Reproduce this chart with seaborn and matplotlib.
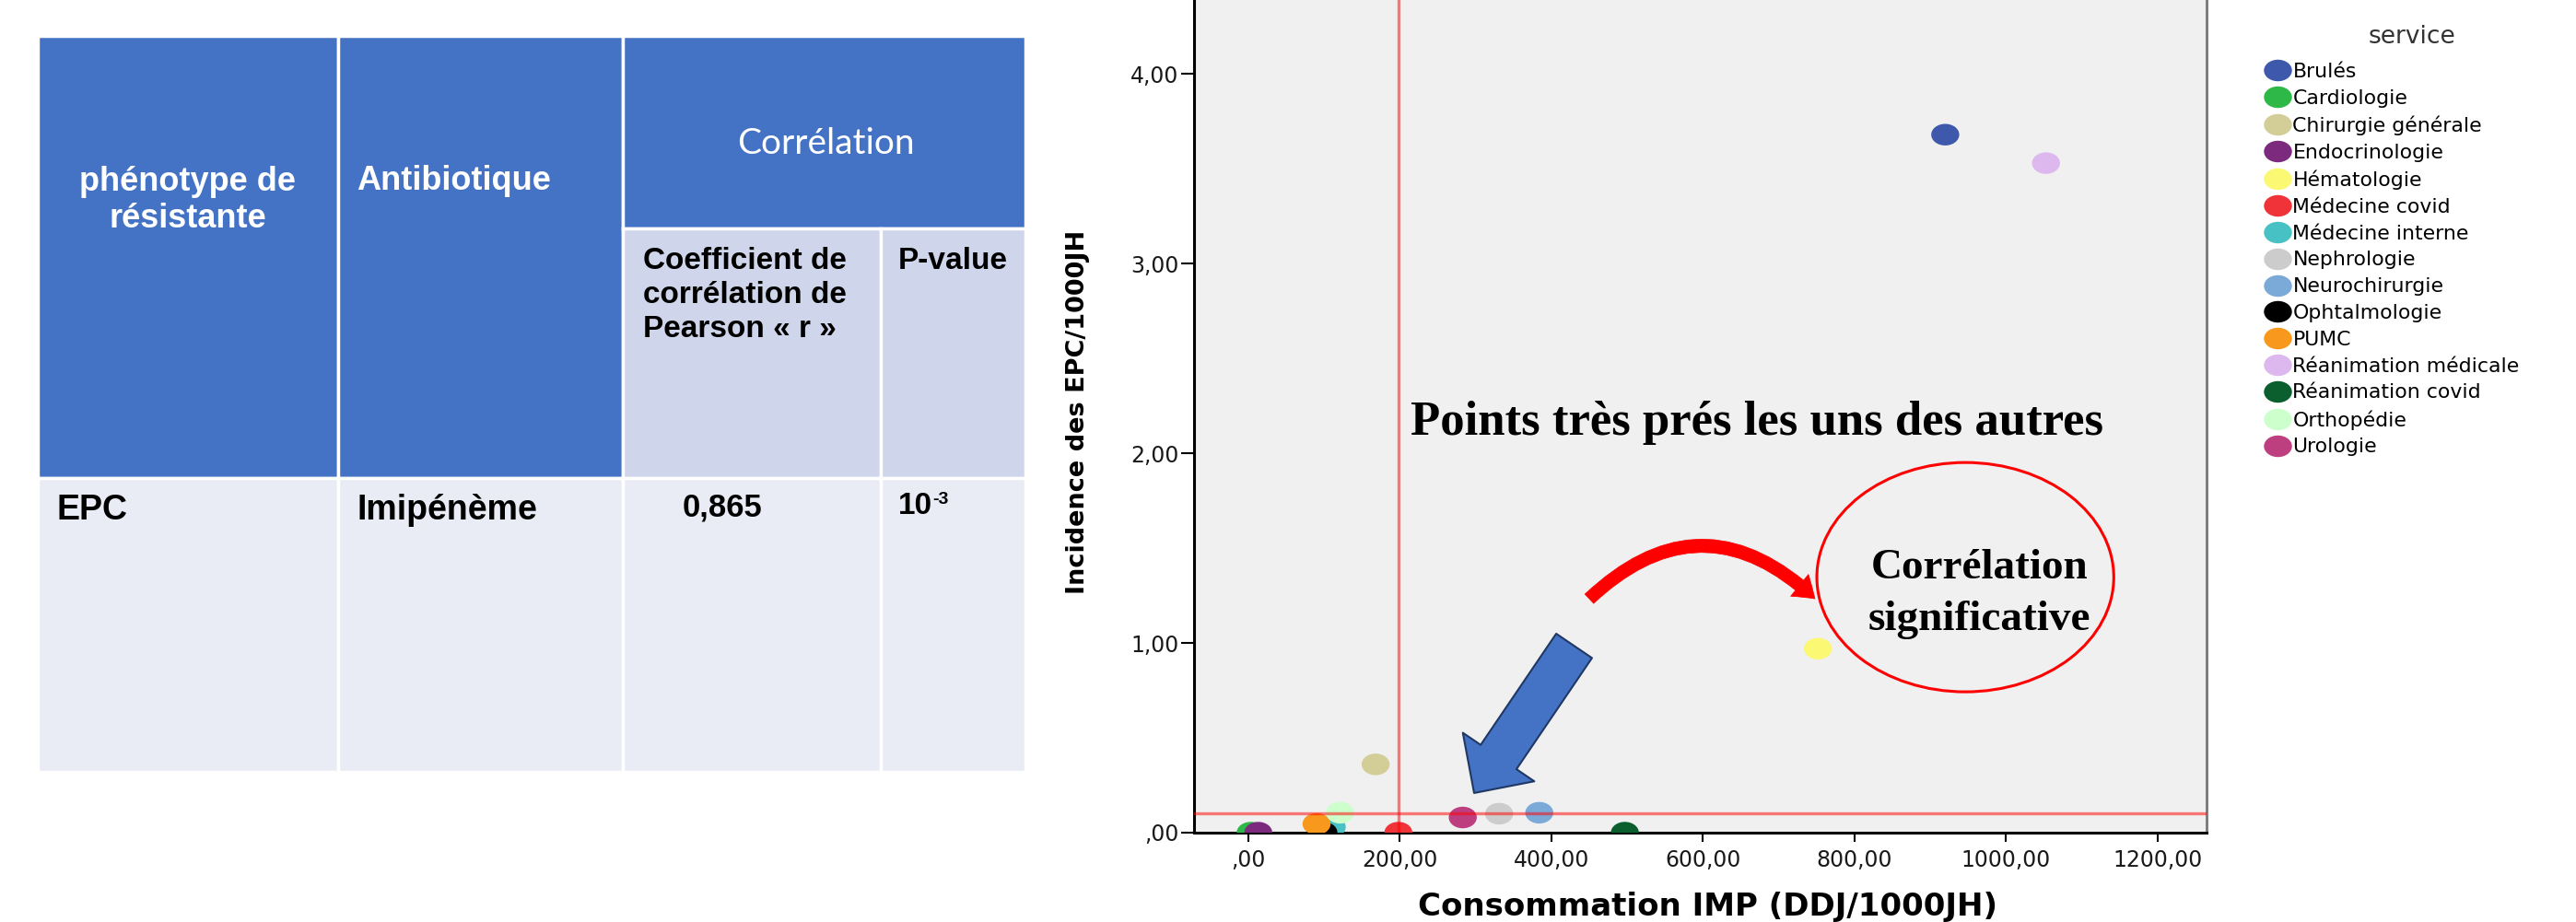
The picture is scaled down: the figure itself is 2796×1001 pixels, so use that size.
import numpy as np
import pandas as pd
import matplotlib
matplotlib.use("Agg")  # pas d'écran, on sauve directement en png
import matplotlib.pyplot as plt
import seaborn as sns
from matplotlib.path import Path
from matplotlib.transforms import Affine2D
from matplotlib.patches import Rectangle, Ellipse, FancyArrowPatch

# --- données -------------------------------------------------------------
services = ["Brulés", "Cardiologie", "Chirurgie générale", "Endocrinologie",
            "Hématologie", "Médecine covid", "Médecine interne", "Nephrologie",
            "Neurochirurgie", "Ophtalmologie", "PUMC", "Réanimation médicale",
            "Réanimation covid", "Orthopédie", "Urologie"]
conso_imp = [920, 3, 168, 13, 752, 198, 110, 331, 384, 99, 90, 1053, 497, 121, 283]
incidence_epc = [3.68, 0.0, 0.36, 0.0, 0.97, 0.0, 0.03, 0.10, 0.105, 0.0,
                 0.046, 3.53, 0.0, 0.105, 0.08]
service_colors = ["#3E58AC", "#2EB848", "#D3CE97", "#7B2A7E", "#FBF873",
                  "#EF3338", "#48C1C5", "#CCCCCC", "#7BA9D8", "#000000",
                  "#F8981D", "#DDB8EE", "#0B5E2E", "#CCFFCC", "#BD3F7F"]

x_ticks = [0, 200, 400, 600, 800, 1000, 1200]
x_tick_labels = [",00", "200,00", "400,00", "600,00", "800,00", "1000,00", "1200,00"]
y_ticks = [0, 1, 2, 3, 4]
y_tick_labels = [",00", "1,00", "2,00", "3,00", "4,00"]

ref_x = 198    # ligne rouge verticale
ref_y = 0.10   # ligne rouge horizontale

table_header = ["phénotype de\nrésistante", "Antibiotique", "Corrélation"]
table_subheader = ["Coefficient de\ncorrélation de\nPearson « r »", "P-value"]
table_row = ["EPC", "Imipénème", "0,865", "10"]
p_exponent = "-3"

# --- figure ---------------------------------------------------------------
W, H = 2796, 1001
fig = plt.figure(figsize=(W / 100, H / 100), dpi=100)

# 1. tableau (dessiné en pixels) -------------------------------------------
tab = fig.add_axes([0, 0, 1, 1])
tab.set_xlim(0, W)
tab.set_ylim(H, 0)
tab.axis("off")

BLUE, SUB, ROW = "#4472C4", "#CFD5EA", "#E9EBF5"
cols = [41, 367, 676, 956, 1113]
top, mid, hdr_bot, bot = 39, 248, 519, 838
cells = [(cols[0], top, cols[1], hdr_bot, BLUE),
         (cols[1], top, cols[2], hdr_bot, BLUE),
         (cols[2], top, cols[4], mid, BLUE),
         (cols[2], mid, cols[3], hdr_bot, SUB),
         (cols[3], mid, cols[4], hdr_bot, SUB)]
cells += [(cols[i], hdr_bot, cols[i + 1], bot, ROW) for i in range(4)]
for x0, y0, x1, y1, c in cells:
    tab.add_patch(Rectangle((x0, y0), x1 - x0, y1 - y0, fc=c, ec="white", lw=2.5))

SANS = ["Liberation Sans", "DejaVu Sans"]


def put_lines(text, x, y0, step, **kw):
    for i, line in enumerate(text.split("\n")):
        tab.text(x, y0 + i * step, line, va="baseline", **kw)


put_lines(table_header[0], 204, 207, 40, ha="center", color="white",
          family=SANS, weight="bold", size=26)
put_lines(table_header[1], 387, 206, 40, ha="left", color="white",
          family=SANS, weight="bold", size=26)
put_lines(table_header[2], 896, 167, 40, ha="center", color="white",
          family=["Lato", "DejaVu Sans"], size=28)
put_lines(table_subheader[0], 698, 292, 37, ha="left", color="black",
          family=SANS, weight="bold", size=24)
put_lines(table_subheader[1], 975, 292, 37, ha="left", color="black",
          family=SANS, weight="bold", size=24)
put_lines(table_row[0], 61, 564, 40, ha="left", family=SANS, weight="bold", size=27)
put_lines(table_row[1], 387, 564, 40, ha="left", family=SANS, weight="bold", size=27)
put_lines(table_row[2], 741, 560, 40, ha="left", family=SANS, weight="bold", size=25)
t10 = tab.text(975, 558, table_row[3], va="baseline", ha="left",
               family=SANS, weight="bold", size=24)
tab.annotate(p_exponent, xy=(1.0, 1.0), xycoords=t10, ha="left", va="top",
             family=SANS, weight="bold", size=14)

# 2. nuage de points ----------------------------------------------------------
ax = fig.add_axes([1296 / W, (H - 904) / H, (2395 - 1296) / W, 904 / H])
df = pd.DataFrame({"service": services, "conso": conso_imp,
                   "incidence": incidence_epc})
# points un peu ovales comme sur l'export SPSS
oval = Affine2D().scale(1, 0.77).transform_path(Path.unit_circle())
sns.scatterplot(data=df, x="conso", y="incidence", hue="service",
                hue_order=services, palette=dict(zip(services, service_colors)),
                s=480, marker=oval, linewidth=0, ax=ax, zorder=3)

ax.set_facecolor("#F0F0F0")
ax.set_xlim(-71.8, 1265)
ax.set_ylim(0, 4.39)
ax.set_xticks(x_ticks, x_tick_labels)
ax.set_yticks(y_ticks, y_tick_labels)
ax.tick_params(axis="x", direction="out", length=7, width=1.5, pad=6,
               labelsize=17, labelcolor="#1a1a1a")
ax.tick_params(axis="y", direction="out", length=10, width=1.5, pad=2,
               labelsize=17, labelcolor="#1a1a1a")
ax.spines["top"].set_visible(False)
ax.spines["right"].set_color("#777777")
ax.spines["right"].set_linewidth(2)
for side in ("left", "bottom"):
    ax.spines[side].set_color("black")
    ax.spines[side].set_linewidth(2.2)

ax.axvline(ref_x, color="red", alpha=0.5, lw=2.4, zorder=4)
ax.axhline(ref_y, color="red", alpha=0.5, lw=2.4, zorder=4)

ax.set_xlabel("Consommation IMP (DDJ/1000JH)", fontsize=24.5, fontweight="bold")
ax.set_ylabel("Incidence des EPC/1000JH", fontsize=19.5, fontweight="bold")
ax.xaxis.set_label_coords(0.507, -0.071)
ax.yaxis.set_label_coords(-0.103, 0.505)

# légende à droite, titre posé à part (centré comme dans SPSS)
sns.move_legend(ax, "upper left", bbox_to_anchor=(2461 / W, 1 - 68 / H),
                bbox_transform=fig.transFigure, frameon=False, title=None,
                fontsize=15.8, labelspacing=0.4, handlelength=1.0,
                handletextpad=0.25, borderpad=0, borderaxespad=0)
fig.text(2618 / W, 1 - 40 / H, "service", ha="center", va="center",
         fontsize=19, color="#333333")

# 3. annotations ----------------------------------------------------------------
SERIF = ["Liberation Serif", "DejaVu Serif"]
ax.text(672, 2.097, "Points très prés les uns des autres", family=SERIF,
        weight="bold", size=38, ha="center", va="baseline", zorder=6)
ax.add_patch(Ellipse((946.5, 1.347), 392, 1.209, fill=False, ec="red",
                     lw=2.2, zorder=6))
ax.text(965, 1.340, "Corrélation", family=SERIF, weight="bold", size=34,
        ha="center", va="baseline", zorder=6)
ax.text(965, 1.068, "significative", family=SERIF, weight="bold", size=34,
        ha="center", va="baseline", zorder=6)

ax.add_patch(FancyArrowPatch(
    (430, 0.985), (298, 0.209),
    arrowstyle="simple,head_length=34,head_width=67.5,tail_width=33.8",
    mutation_scale=1, shrinkA=0, shrinkB=0, fc="#4472C4", ec="#1F3864",
    lw=1.5, zorder=6))
ax.add_patch(FancyArrowPatch(
    (450, 1.233), (748, 1.233), connectionstyle="arc3,rad=-0.47",
    arrowstyle="simple,head_length=16,head_width=22,tail_width=10",
    mutation_scale=1, shrinkA=0, shrinkB=0, fc="red", ec="red",
    lw=0.5, zorder=6))

fig.savefig("out.png", dpi=100, facecolor="white")
